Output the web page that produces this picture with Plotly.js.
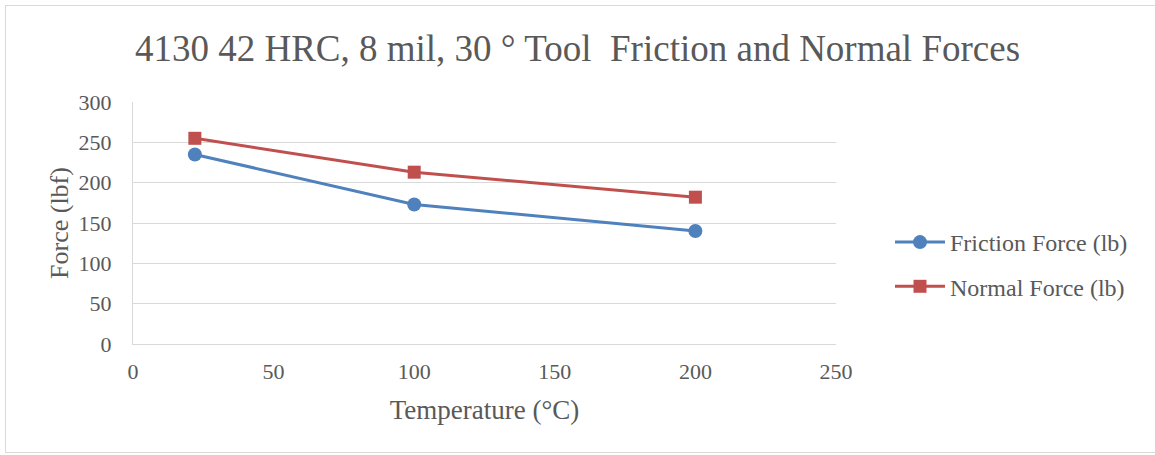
<!DOCTYPE html>
<html>
<head>
<meta charset="utf-8">
<script src="https://cdn.plot.ly/plotly-3.0.1.min.js"></script>
<style>
  html, body { margin: 0; padding: 0; background: #fff; }
  #frame { position: absolute; left: 5px; top: 5px; width: 1200px; height: 446px; border: 1px solid #d9d9d9; }
  #chart { position: absolute; left: 0; top: 0; width: 1155px; height: 455px; }
</style>
</head>
<body>
<div id="frame"></div>
<div id="chart"></div>
<script>
const temperature = [22, 100, 200];
const frictionForce = [235, 173, 140];
const normalForce = [255, 213, 182];
const seriesNames = ["Friction Force (lb)", "Normal Force (lb)"];
const xTicks = [0, 50, 100, 150, 200, 250];
const yTicks = [0, 50, 100, 150, 200, 250, 300];

const fontFam = '"Liberation Serif", "Times New Roman", serif';
const textColor = '#595959';

const traces = [
  {
    x: temperature, y: frictionForce, name: seriesNames[0],
    type: 'scatter', mode: 'lines+markers', legendgroup: 'a',
    line: { color: '#4f81bd', width: 3 },
    marker: { symbol: 'circle', size: 14, color: '#4f81bd' }
  },
  {
    x: temperature, y: normalForce, name: seriesNames[1],
    type: 'scatter', mode: 'lines+markers', legendgroup: 'b',
    line: { color: '#c0504d', width: 3 },
    marker: { symbol: 'square', size: 13, color: '#c0504d' }
  }
];

const layout = {
  width: 1155, height: 455,
  paper_bgcolor: 'rgba(0,0,0,0)', plot_bgcolor: '#fff',
  margin: { l: 133, r: 319, t: 102, b: 111 },
  font: { family: fontFam, color: textColor, size: 22 },
  title: {
    text: '4130 42 HRC, 8 mil, 30 ° Tool  Friction and Normal Forces',
    font: { family: fontFam, size: 37, color: textColor },
    x: 0.5, xref: 'container', xanchor: 'center',
    y: 1 - 48 / 455, yref: 'container', yanchor: 'middle'
  },
  xaxis: {
    range: [0, 250], tickvals: xTicks, ticktext: xTicks.map(String),
    showgrid: false, zeroline: false,
    showline: true, linecolor: '#d9d9d9', linewidth: 1,
    ticks: '', tickfont: { size: 22, color: textColor }, ticklabelstandoff: 8,
    title: { text: 'Temperature (°C)', font: { size: 27, color: textColor }, standoff: 16 }
  },
  yaxis: {
    range: [0, 300], tickvals: yTicks, ticktext: yTicks.map(String),
    showgrid: true, gridcolor: '#d9d9d9', gridwidth: 1, zeroline: false,
    showline: true, linecolor: '#d9d9d9', linewidth: 1,
    ticks: '', tickfont: { size: 22, color: textColor }, ticklabelstandoff: 16,
    title: { text: 'Force (lbf)', font: { size: 26, color: textColor }, standoff: 2 }
  },
  showlegend: true,
  legend: {
    x: (890 - 133) / 703, xanchor: 'left',
    y: (344 - 264.5) / 242, yanchor: 'middle',
    traceorder: 'grouped', tracegroupgap: 10,
    font: { size: 24, color: textColor },
    bgcolor: 'rgba(0,0,0,0)', itemwidth: 50
  }
};

Plotly.newPlot('chart', traces, layout, { displayModeBar: false, staticPlot: true });
</script>
</body>
</html>
